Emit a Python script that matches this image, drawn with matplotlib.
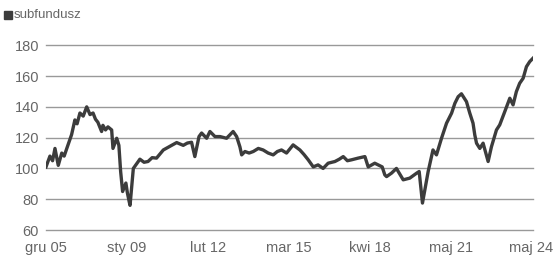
import matplotlib
matplotlib.use("Agg")
import matplotlib.pyplot as plt
from matplotlib.patches import Rectangle

plt.rcParams['font.family'] = ['Liberation Sans', 'DejaVu Sans']

# months since Dec 2005
months = [0, 1.8, 3.0, 4.1, 5.6, 7.2, 8.3, 9.5, 11.7, 13.2, 14.2, 15.5, 17.0, 18.6, 20.1,
          21.5, 22.6, 23.7, 25.4, 26, 27.2, 28.3, 30, 30.6, 32.3, 33.3, 34.1, 35, 36.5,
          37.2, 38, 38.4, 39.9, 42.9, 44.8, 46.6, 48.5, 50.5, 53.6, 55.5, 57.4, 59.7,
          62.7, 64.6, 66.5, 68, 69.9, 71.1, 73.4, 74.9, 77.2, 79.5, 82.5, 85.5, 87.1,
          88.6, 89.4, 90.9, 92.8, 94.7, 97.0, 99.2, 101.5, 103.8, 105.7, 107.6, 109.9,
          112.9, 116, 117.9, 119.8, 122.1, 124.3, 126.6, 128.9, 132, 134.0, 135.8, 137.7,
          139.6, 142.6, 145.7, 147.2, 150.2, 153.6, 154.8, 155.6, 157.9, 160.1, 163.2,
          166.2, 169.3, 170.5, 172, 174.6, 176.8, 178.4, 180.7, 183, 185.3, 186.8, 188.3,
          189.8, 192.1, 193.6, 195.1, 195.9, 196.7, 198.2, 199.7, 202, 203.5, 205.8,
          207.3, 209.6, 211.9, 213.4, 214.9, 216.4, 218, 219.5, 221, 222.5]
values = [101, 108, 105, 113, 102, 110, 108, 113, 122, 131.5, 129, 136, 134, 140, 135,
          136, 132, 130, 124, 128, 125, 127, 125, 113, 119.6, 115, 98, 85, 90.5,
          84, 78.5, 76, 100, 106, 104, 104.5, 107, 106.7, 112, 113.5, 115, 116.8,
          115, 116.5, 117, 107.7, 120.7, 123, 119.6, 124, 120.7, 120.7, 119.6, 124, 120.7,
          114, 108.8, 111, 110, 111, 113, 112, 110, 108.8, 111, 112, 110,
          115.3, 112, 109, 105.6, 101, 102.3, 100, 103.4, 104.5, 106, 107.7, 105,
          105.6, 106.7, 107.7, 101, 103.4, 101, 95.8, 94.7, 97, 100, 92.6,
          93.7, 96.9, 98, 77.5, 98, 112, 108.8, 119.6, 129.4, 135.9, 142.3, 146.6,
          148.5, 143.4, 136, 129.4, 121.8, 116.4, 113, 116.4, 104.5, 114, 125,
          128.3, 136.9, 145.6, 141.3, 149.9, 155.3, 158.6, 166.1, 169.4, 171.6]

tick_pos = [0, 37, 74, 111, 148, 185, 221.5]
tick_labels = ["gru 05", "sty 09", "lut 12", "mar 15", "kwi 18", "maj 21", "maj 24"]
y_ticks = [60, 80, 100, 120, 140, 160, 180]
series_name = "subfundusz"

W, H = 557, 264
fig = plt.figure(figsize=(W / 100, H / 100), dpi=100)
ax = fig.add_axes([46 / W, 1 - 230 / H, (533 - 46) / W, (230 - 45.3) / H])

for yv in y_ticks:
    ax.axhline(yv, color="#999999", lw=1, zorder=1, clip_on=False)

ax.plot(months, values, color="#3c3c3c", lw=2.4, zorder=3)

ax.set_xlim(0, 222.5)
ax.set_ylim(60, 180)
ax.set_xticks(tick_pos)
ax.set_xticklabels(tick_labels)
ax.set_yticks(y_ticks)
ax.tick_params(axis="both", length=0, colors="#666666", labelsize=10.5)
ax.tick_params(axis="x", pad=8)
ax.tick_params(axis="y", pad=5)
for s in ax.spines.values():
    s.set_visible(False)
ax.patch.set_alpha(0)

# legend
fig.patches.append(Rectangle((4 / W, 1 - 18.5 / H), 8 / W, 8 / H,
                             transform=fig.transFigure, color="#3c3c3c"))
fig.text(14 / W, 1 - 14.5 / H, series_name, fontsize=9.5, color="#666666",
         va="center", ha="left")

fig.savefig("out.png", dpi=100)
